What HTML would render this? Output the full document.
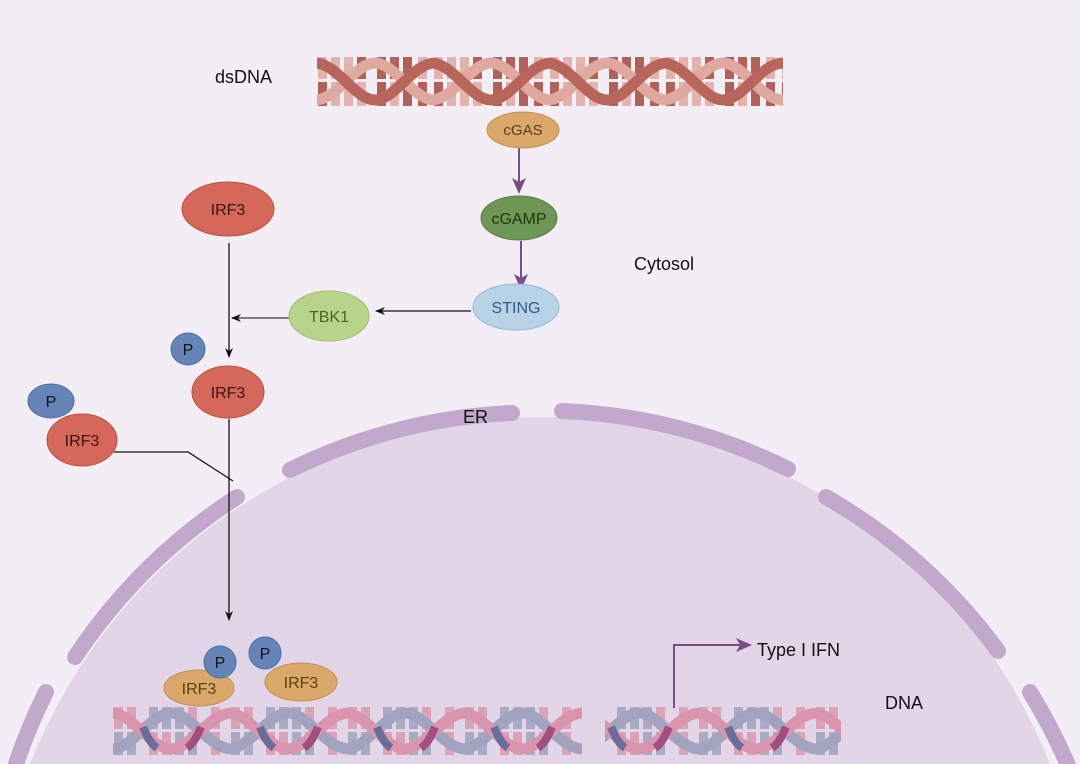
<!DOCTYPE html>
<html><head><meta charset="utf-8"><style>
html,body{margin:0;padding:0;background:#f3eef6;width:1080px;height:764px;overflow:hidden;}
svg{display:block;font-family:"Liberation Sans",sans-serif;}
</style></head><body>
<svg width="1080" height="764" viewBox="0 0 1080 764" xmlns="http://www.w3.org/2000/svg">
<defs>
<pattern id="dnaTop" patternUnits="userSpaceOnUse" x="317" y="57" width="116" height="49">
  <rect x="1" y="0" width="9" height="22" fill="#e3b3ad"/><rect x="1" y="25" width="9" height="24" fill="#b0625a"/>
  <rect x="14" y="0" width="9" height="22" fill="#e3b3ad"/><rect x="14" y="25" width="9" height="24" fill="#e3b3ad"/>
  <rect x="27" y="0" width="9" height="22" fill="#e3b3ad"/><rect x="27" y="25" width="9" height="24" fill="#e3b3ad"/>
  <rect x="40" y="0" width="9" height="22" fill="#b0625a"/><rect x="40" y="25" width="9" height="24" fill="#e3b3ad"/>
  <rect x="60" y="0" width="9" height="22" fill="#b0625a"/><rect x="60" y="25" width="9" height="24" fill="#b0625a"/>
  <rect x="73" y="0" width="9" height="22" fill="#b0625a"/><rect x="73" y="25" width="9" height="24" fill="#e3b3ad"/>
  <rect x="86" y="0" width="9" height="22" fill="#b0625a"/><rect x="86" y="25" width="9" height="24" fill="#b0625a"/>
  <rect x="101" y="0" width="9" height="22" fill="#e3b3ad"/><rect x="101" y="25" width="9" height="24" fill="#b0625a"/>
  <path d="M-2,43 C20,43 38,6 58,6 C78,6 96,43 118,43" fill="none" stroke="#dfa9a0" stroke-width="11"/>
  <path d="M-2,6 C20,6 38,43 58,43 C78,43 96,6 118,6" fill="none" stroke="#b8655c" stroke-width="11"/>
</pattern>
<pattern id="dnaBot" patternUnits="userSpaceOnUse" x="113" y="707" width="117" height="48">
  <rect x="1" y="0" width="9" height="22" fill="#dba3b6"/><rect x="1" y="25" width="9" height="23" fill="#a9abc5"/>
  <rect x="14" y="0" width="9" height="22" fill="#dba3b6"/><rect x="14" y="25" width="9" height="23" fill="#a9abc5"/>
  <rect x="36" y="0" width="9" height="22" fill="#a9abc5"/><rect x="36" y="25" width="9" height="23" fill="#dba3b6"/>
  <rect x="49" y="0" width="9" height="22" fill="#a9abc5"/><rect x="49" y="25" width="9" height="23" fill="#dba3b6"/>
  <rect x="62" y="0" width="9" height="22" fill="#a9abc5"/><rect x="62" y="25" width="9" height="23" fill="#a9abc5"/>
  <rect x="75" y="0" width="9" height="22" fill="#dba3b6"/><rect x="75" y="25" width="9" height="23" fill="#a9abc5"/>
  <rect x="98" y="0" width="9" height="22" fill="#dba3b6"/><rect x="98" y="25" width="9" height="23" fill="#dba3b6"/>
  <path d="M-2,42 C20,42 38,6 58,6 C78,6 96,42 119,42" fill="none" stroke="#a2a3bf" stroke-width="11"/>
  <path d="M-2,6 C20,6 38,42 58,42 C78,42 96,6 119,6" fill="none" stroke="#d995ad" stroke-width="11"/>
  <path d="M30,20 C34,30 38,37 44,41" fill="none" stroke="#6b6c9e" stroke-width="8"/>
  <path d="M88,20 C84,30 80,37 74,41" fill="none" stroke="#a24f80" stroke-width="8"/>
</pattern>
<marker id="ab" markerWidth="10" markerHeight="10" refX="9" refY="5" orient="auto" markerUnits="userSpaceOnUse"><path d="M0,1 L10,5 L0,9 L3,5 Z" fill="#111"/></marker>
<marker id="ap" markerWidth="16" markerHeight="16" refX="14" refY="8" orient="auto" markerUnits="userSpaceOnUse"><path d="M0,1 L16,8 L0,15 L4,8 Z" fill="#7b4b8a"/></marker>
</defs>

<rect width="1080" height="764" fill="#f3eef6"/>
<circle cx="540" cy="965" r="548" fill="#e3d5e8"/>
<g fill="none" stroke="#c2a9cc" stroke-width="16" stroke-linecap="round">
  <path d="M290,470 A556,556 0 0 1 512,413"/>
  <path d="M562,411 A556,556 0 0 1 788,469"/>
  <path d="M826,497 A556,556 0 0 1 998,651"/>
  <path d="M75,657 A556,556 0 0 1 237,497"/>
  <path d="M46,692 A556,556 0 0 0 14,770"/>
  <path d="M1030,692 A556,556 0 0 1 1070,770"/>
</g>

<rect x="317" y="57" width="466" height="49" fill="url(#dnaTop)"/>
<rect x="113" y="707" width="469" height="48" fill="url(#dnaBot)"/>
<rect x="605" y="707" width="236" height="48" fill="url(#dnaBot)"/>

<g font-size="18" fill="#111">
<text x="215" y="83">dsDNA</text>
<text x="634" y="270">Cytosol</text>
<text x="463" y="423">ER</text>
<text x="885" y="709">DNA</text>
<text x="757" y="656">Type I IFN</text>
</g>

<line x1="519" y1="148" x2="519" y2="192" stroke="#7b4b8a" stroke-width="2" marker-end="url(#ap)"/>
<line x1="521" y1="241" x2="521" y2="288" stroke="#7b4b8a" stroke-width="2" marker-end="url(#ap)"/>
<polyline points="674,708 674,645 750,645" fill="none" stroke="#7b4b8a" stroke-width="2" marker-end="url(#ap)"/>
<line x1="471" y1="311" x2="376" y2="311" stroke="#111" stroke-width="1.3" marker-end="url(#ab)"/>
<line x1="289" y1="318" x2="232" y2="318" stroke="#555" stroke-width="1.5" marker-end="url(#ab)"/>
<line x1="229" y1="243" x2="229" y2="357" stroke="#111" stroke-width="1.3" marker-end="url(#ab)"/>
<line x1="229" y1="419" x2="229" y2="620" stroke="#111" stroke-width="1.3" marker-end="url(#ab)"/>
<polyline points="114,452 188,452 233,481" fill="none" stroke="#111" stroke-width="1.3"/>

<g font-size="15" text-anchor="middle">
<ellipse cx="523" cy="130" rx="36" ry="18" fill="#d9a86a" stroke="#c0904f"/>
<text x="523" y="135" fill="#5a3d1a">cGAS</text>
<ellipse cx="519" cy="218" rx="38" ry="22" fill="#6e9656" stroke="#57803f"/>
<text x="519" y="224" fill="#1e3a12" font-size="16">cGAMP</text>
<ellipse cx="516" cy="307" rx="43" ry="23" fill="#b8d3e8" stroke="#93b6d2"/>
<text x="516" y="313" fill="#2e5d86" font-size="16">STING</text>
<ellipse cx="329" cy="316" rx="40" ry="25" fill="#b8d48b" stroke="#9dbd6e"/>
<text x="329" y="322" fill="#3f6a1c" font-size="16">TBK1</text>
<ellipse cx="228" cy="209" rx="46" ry="27" fill="#d5685a" stroke="#b8503f"/>
<text x="228" y="215" fill="#3a1410" font-size="16">IRF3</text>
<ellipse cx="188" cy="349" rx="17" ry="16" fill="#6585b8" stroke="#4e6ea0"/>
<text x="188" y="355" fill="#111" font-size="16">P</text>
<ellipse cx="228" cy="392" rx="36" ry="26" fill="#d5685a" stroke="#b8503f"/>
<text x="228" y="398" fill="#3a1410" font-size="16">IRF3</text>
<ellipse cx="51" cy="401" rx="23" ry="17" fill="#6585b8" stroke="#4e6ea0"/>
<text x="51" y="407" fill="#111" font-size="16">P</text>
<ellipse cx="82" cy="440" rx="35" ry="26" fill="#d5685a" stroke="#b8503f"/>
<text x="82" y="446" fill="#3a1410" font-size="16">IRF3</text>
<ellipse cx="199" cy="688" rx="35" ry="18" fill="#d9a86a" stroke="#c0904f"/>
<text x="199" y="694" fill="#5a4510" font-size="16">IRF3</text>
<ellipse cx="301" cy="682" rx="36" ry="19" fill="#d9a86a" stroke="#c0904f"/>
<text x="301" y="688" fill="#5a4510" font-size="16">IRF3</text>
<circle cx="220" cy="662" r="16" fill="#6585b8" stroke="#4e6ea0"/>
<text x="220" y="668" fill="#111" font-size="16">P</text>
<circle cx="265" cy="653" r="16" fill="#6585b8" stroke="#4e6ea0"/>
<text x="265" y="659" fill="#111" font-size="16">P</text>
</g>
</svg>
</body></html>
